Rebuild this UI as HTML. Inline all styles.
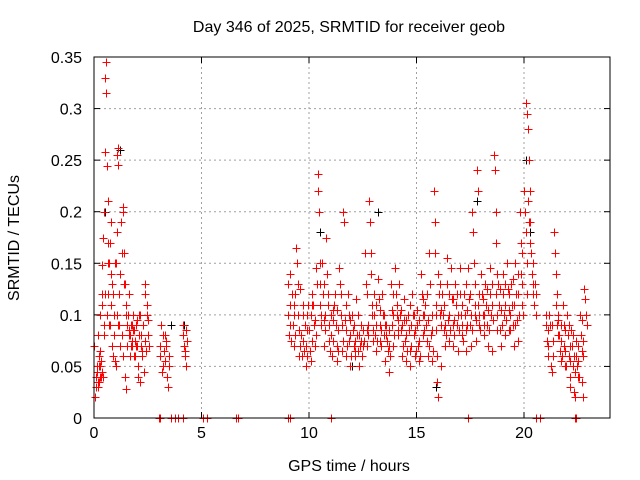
<!DOCTYPE html>
<html><head><meta charset="utf-8"><style>
body{margin:0;background:#fff}
svg{display:block;font-family:"Liberation Sans",sans-serif}
</style></head><body>
<svg id="chart" width="640" height="480">
<text x="349" y="32" text-anchor="middle" font-size="16">Day 346 of 2025, SRMTID for receiver geob</text>
<text x="349" y="471" text-anchor="middle" font-size="16">GPS time / hours</text>
<text transform="translate(19,238) rotate(-90)" text-anchor="middle" font-size="16">SRMTID / TECUs</text>
<g id="grid"></g><g id="ticks"></g><g id="marks"></g>
<rect x="94" y="57" width="516" height="361" fill="none" stroke="#000" stroke-width="1"/>
</svg>
<script>
const xTicks=[0,5,10,15,20];
const yTicks=[0,0.05,0.1,0.15,0.2,0.25,0.3,0.35];
const yTickLabels=["0","0.05","0.1","0.15","0.2","0.25","0.3","0.35"];
const groupHours=[0.02,0.1,0.2,0.3,0.35,0.45,0.55,0.65,0.75,0.85,0.95,1.05,1.12,1.25,1.35,1.45,1.55,1.65,1.75,1.85,1.95,2.05,2.15,2.25,2.35,2.45,3.05,3.2,3.35,4.12,4.22,
9.0,9.2,9.4,9.6,9.8,10.0,10.2,10.4,10.6,10.8,11.0,11.2,11.4,11.6,11.8,12.0,12.2,12.4,12.6,12.8,13.0,13.2,13.4,13.6,13.8,14.0,14.2,14.4,14.6,14.8,15.0,15.2,15.4,15.6,15.8,16.0,16.2,16.4,16.6,16.8,17.0,17.2,17.4,17.6,17.8,18.0,18.2,18.4,18.6,18.8,19.0,19.2,19.4,19.6,19.8,20.0,20.1,20.3,20.5,21.0,21.2,21.4,21.6,21.8,22.0,22.2,22.4,22.6,22.8];
const groupValues=[[0.07,0.02,0.04,0.05,0.03,0.035],[0.03,0.045,0.08,0.06,0.04,0.05],[0.035,0.05,0.1,0.04,0.045],[0.065,0.055,0.12,0.04,0.09],[0.148,0.11,0.175,0.08,0.12],[0.2,0.258,0.33,0.345,0.1,0.15],[0.315,0.244,0.12,0.17,0.09],[0.21,0.15,0.09,0.19,0.11],[0.17,0.14,0.07,0.06,0.1],[0.13,0.12,0.08,0.055,0.15],[0.1,0.15,0.05,0.18,0.09],[0.1,0.255,0.262,0.09,0.14],[0.245,0.12,0.07,0.19,0.16],[0.19,0.08,0.2,0.06,0.13],[0.205,0.16,0.04,0.028,0.1],[0.13,0.11,0.07,0.1,0.085],[0.09,0.1,0.12,0.08,0.07],[0.08,0.06,0.09,0.075,0.1],[0.09,0.07,0.085,0.06],[0.085,0.075,0.06,0.07,0.095],[0.09,0.07,0.04,0.08],[0.05,0.1,0.035,0.07,0.065],[0.1,0.08,0.06,0.09],[0.06,0.09,0.045,0.075],[0.13,0.12,0.065,0.11],[0.1,0.095,0.08,0.07],[0.07,0.06,0.09,0.045,0.08],[0.05,0.065,0.055,0.08,0.07],[0.075,0.04,0.03,0.06,0.05],[0.09,0.08,0.07,0.065],[0.06,0.05,0.085,0.075],
[0.13,0.1,0.08,0.14],[0.12,0.09,0.07,0.11],[0.165,0.15,0.1,0.06],[0.125,0.08,0.06,0.1],[0.09,0.07,0.05,0.1],[0.085,0.065,0.055,0.11],[0.11,0.09,0.07,0.145],[0.237,0.22,0.2,0.13,0.1],[0.15,0.12,0.095,0.07],[0.175,0.14,0.11,0.075],[0.1,0.08,0.06,0.105],[0.12,0.09,0.055,0.07],[0.145,0.13,0.1,0.065],[0.2,0.19,0.095,0.06],[0.12,0.1,0.075,0.05],[0.1,0.085,0.07,0.06],[0.115,0.08,0.065,0.05],[0.09,0.075,0.06,0.07],[0.16,0.13,0.085,0.07],[0.21,0.19,0.16,0.11,0.075],[0.12,0.1,0.08,0.065],[0.135,0.115,0.09,0.075],[0.12,0.1,0.08,0.055],[0.09,0.075,0.065,0.045],[0.13,0.105,0.09,0.07],[0.145,0.12,0.1,0.08],[0.13,0.1,0.085,0.06],[0.115,0.095,0.075,0.055],[0.1,0.085,0.065,0.05],[0.12,0.1,0.08,0.06],[0.105,0.09,0.07,0.055],[0.14,0.12,0.1,0.08],[0.11,0.09,0.075,0.06],[0.16,0.13,0.08,0.055],[0.22,0.19,0.16,0.1,0.035,0.02],[0.14,0.12,0.1,0.05],[0.12,0.1,0.085,0.07],[0.155,0.13,0.095,0.075],[0.145,0.115,0.09,0.07],[0.13,0.11,0.09,0.065],[0.145,0.12,0.1,0.08],[0.12,0.1,0.085,0.065],[0.145,0.115,0.09,0.07],[0.2,0.18,0.15,0.1,0.075],[0.24,0.22,0.11,0.09],[0.14,0.12,0.1,0.08],[0.13,0.11,0.09,0.07],[0.145,0.12,0.1,0.065],[0.255,0.24,0.2,0.17,0.14],[0.13,0.11,0.085,0.07],[0.14,0.12,0.1,0.08],[0.15,0.125,0.105,0.085],[0.13,0.11,0.09,0.07],[0.15,0.12,0.095,0.075],[0.2,0.17,0.14,0.11],[0.22,0.2,0.18,0.15,0.12],[0.305,0.295,0.28,0.25,0.22],[0.19,0.16,0.14,0.12],[0.13,0.12,0.1],[0.1,0.09,0.075,0.06],[0.09,0.05,0.045],[0.18,0.16,0.14,0.12,0.1],[0.095,0.08,0.065,0.055],[0.11,0.09,0.07,0.05],[0.1,0.08,0.06,0.04,0.03],[0.085,0.07,0.05,0.025,0.02],[0.075,0.06,0.05,0.04],[0.1,0.08,0.065,0.035,0.02],[0.125,0.115,0.1,0.09]];
const extraHours=[9.1,9.3,9.5,9.7,9.9,10.1,10.3,10.5,10.7,10.9,11.1,11.3,11.5,11.7,11.9,12.1,12.3,12.5,12.7,12.9,13.1,13.3,13.5,13.7,13.9,14.1,14.3,14.5,14.7,14.9,15.1,15.3,15.5,15.7,15.9,16.1,16.3,16.5,16.7,16.9,17.1,17.3,17.5,17.7,17.9,18.1,18.3,18.5,18.7,18.9,19.1,19.3,19.5,19.7,19.9,20.2,20.4,21.1,21.3,21.5,21.7,21.9,22.1,22.3,22.5,22.7];
const extraValues=[[0.11,0.09,0.075],[0.1,0.08,0.12],[0.13,0.085,0.07],[0.11,0.075,0.065],[0.085,0.06,0.11],[0.1,0.075,0.12],[0.095,0.08,0.13],[0.15,0.11,0.09],[0.13,0.1,0.085],[0.12,0.09,0.065],[0.095,0.075,0.11],[0.105,0.085,0.065],[0.12,0.09,0.075],[0.11,0.085,0.07],[0.095,0.08,0.06],[0.09,0.075,0.065],[0.1,0.08,0.07],[0.085,0.07,0.075],[0.12,0.09,0.08],[0.14,0.1,0.085],[0.11,0.09,0.075],[0.105,0.085,0.07],[0.1,0.09,0.08],[0.085,0.07,0.06],[0.12,0.1,0.08],[0.11,0.095,0.085],[0.105,0.09,0.07],[0.095,0.08,0.065],[0.11,0.09,0.07],[0.1,0.085,0.065],[0.095,0.075,0.06],[0.115,0.1,0.085],[0.12,0.095,0.07],[0.1,0.085,0.065],[0.11,0.085,0.06],[0.13,0.105,0.09],[0.11,0.09,0.08],[0.12,0.1,0.085],[0.115,0.095,0.08],[0.12,0.1,0.085],[0.11,0.09,0.075],[0.13,0.105,0.09],[0.12,0.1,0.085],[0.13,0.11,0.095],[0.12,0.1,0.085],[0.115,0.1,0.09],[0.125,0.105,0.085],[0.13,0.11,0.095],[0.12,0.1,0.085],[0.125,0.105,0.09],[0.13,0.11,0.095],[0.12,0.1,0.085],[0.135,0.11,0.09],[0.14,0.12,0.1],[0.16,0.13,0.1],[0.21,0.19,0.17],[0.15,0.13,0.11],[0.085,0.07,0.1],[0.09,0.075,0.06],[0.11,0.09,0.08],[0.09,0.075,0.06],[0.085,0.065,0.05],[0.09,0.07,0.055],[0.08,0.06,0.045],[0.07,0.055,0.04],[0.095,0.075,0.06]];
const zeroHours=[3.0,3.05,3.6,3.75,3.9,4.15,5.05,5.25,6.6,6.7,9.0,9.1,11.0,17.4,20.55,20.75,22.35,22.4];
const blackHours=[0.5,1.2,3.6,4.2,10.5,12.0,13.2,15.9,17.8,20.1,20.3];
const blackValues=[0.2,0.26,0.09,0.09,0.18,0.05,0.2,0.03,0.21,0.25,0.18];
const NS="http://www.w3.org/2000/svg";
const L=94,R=610,T=57,B=418;
const xs=h=>L+h/24*(R-L), ys=v=>B-v/0.35*(B-T);
function mk(tag,attrs,parent){const e=document.createElementNS(NS,tag);for(const k in attrs)e.setAttribute(k,attrs[k]);parent.appendChild(e);return e;}
const grid=document.getElementById('grid'),ticks=document.getElementById('ticks'),marks=document.getElementById('marks');
xTicks.forEach((t,i)=>{const x=xs(t);
 if(t>0){const g=mk('line',{x1:x,x2:x,y1:T,y2:B,stroke:'#a0a0a0','stroke-dasharray':'2,3'},grid);
 
 }
 mk('line',{x1:x,x2:x,y1:B,y2:B-6,stroke:'#000'},ticks);mk('line',{x1:x,x2:x,y1:T,y2:T+6,stroke:'#000'},ticks);
 const tx=mk('text',{x:x,y:B+20,'text-anchor':'middle','font-size':16},ticks);tx.textContent=t;
 
 });
yTicks.forEach((t,i)=>{const y=ys(t);
 if(t>0&&t<0.35){const g=mk('line',{x1:L,x2:R,y1:y,y2:y,stroke:'#a0a0a0','stroke-dasharray':'2,3'},grid);
 
 }
 mk('line',{x1:L,x2:L+6,y1:y,y2:y,stroke:'#000'},ticks);mk('line',{x1:R,x2:R-6,y1:y,y2:y,stroke:'#000'},ticks);
 const tx=mk('text',{x:82,y:y+6,'text-anchor':'end','font-size':16},ticks);tx.textContent=yTickLabels[i];
 
 });
function plus(h,v,color,name){const x=Math.round(xs(h))+0.5,y=Math.round(ys(v))+0.5;
 const p=mk('path',{d:`M${x-4},${y}h8M${x},${y-4}v8`,stroke:color,'stroke-width':1,fill:'none'},marks);
 
 }
blackHours.forEach((h,i)=>plus(h,blackValues[i],'#000','black-point'));
groupHours.forEach((h,g)=>{groupValues[g].forEach((v,j)=>plus(h+j*0.04,v,'#f00','srmtid-point'));});
extraHours.forEach((h,g)=>{extraValues[g].forEach((v,j)=>plus(h+j*0.03,v,'#f00','srmtid-point'));});
zeroHours.forEach(h=>plus(h,0,'#f00','zero-point'));
</script>
</body></html>
